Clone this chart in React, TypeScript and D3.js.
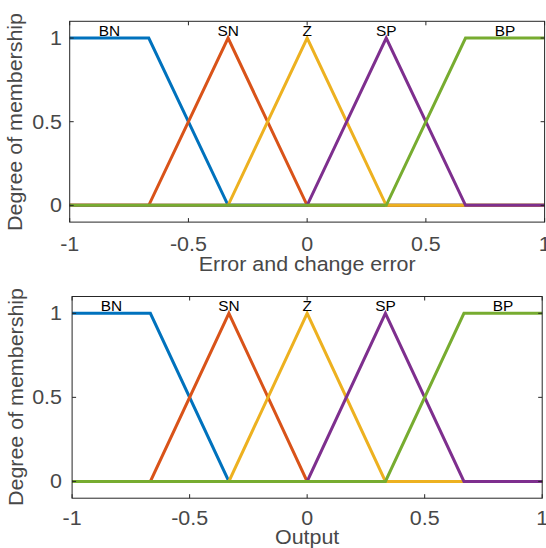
import React from 'react'
import * as d3 from 'd3'

// membership function vertices (same sets on both axes)
const mfNames = ['BN', 'SN', 'Z', 'SP', 'BP']
const mfLabelX = [-0.833, -0.333, 0, 0.333, 0.833]
const mfX = [
  [-1, -0.667, -0.333, 1],
  [-1, -0.667, -0.333, 0, 1],
  [-1, -0.333, 0, 0.333, 1],
  [-1, 0, 0.333, 0.667, 1],
  [-1, 0.333, 0.667, 1]
]
const mfY = [
  [1, 1, 0, 0],
  [0, 0, 1, 0, 0],
  [0, 0, 1, 0, 0],
  [0, 0, 1, 0, 0],
  [0, 0, 1, 1]
]
const xTicks = [-1, -0.5, 0, 0.5, 1]
const yTicks = [0, 0.5, 1]
const xLabels = ['Error and change error', 'Output']
const colors = ['#0072BD', '#D95319', '#EDB120', '#7E2F8E', '#77AC30']

const W = 546
const H = 548
const SX = 1.1 // text in the picture is a bit wider than Liberation Sans
const axisColor = '#262626'
const textColor = '#484848'
const font = 'Liberation Sans, Arial, sans-serif'

const panels = [
  { left: 69.7, right: 544.6, top: 21.3, bottom: 222.1, tickBase: 251, labelBase: 270.5, yLabelX: 22, yLabelY: 122 },
  { left: 72.1, right: 542.2, top: 296.5, bottom: 498.2, tickBase: 525, labelBase: 544, yLabelX: 23, yLabelY: 397 }
]

function Panel({ p, xLabel }) {
  const x = d3.scaleLinear().domain([-1, 1]).range([p.left, p.right])
  const y = d3.scaleLinear().domain([-0.1, 1.1]).range([p.bottom, p.top])
  const line = d3
    .line<number>()
    .x(d => x(d[0]))
    .y(d => y(d[1]))
  const tk = 4

  return (
    <g>
      {/* curves */}
      {mfX.map((xs, i) => (
        <path
          key={mfNames[i]}
          d={line(xs.map((v, j) => [v, mfY[i][j]]) as any)}
          fill="none"
          stroke={colors[i]}
          strokeWidth={3}
          strokeLinejoin="miter"
        />
      ))}

      {/* box and ticks */}
      <rect x={p.left} y={p.top} width={p.right - p.left} height={p.bottom - p.top} fill="none" stroke={axisColor} strokeWidth={1} />
      {xTicks.map(t => (
        <g key={'xt' + t}>
          <line x1={x(t)} x2={x(t)} y1={p.bottom} y2={p.bottom - tk} stroke={axisColor} />
          <line x1={x(t)} x2={x(t)} y1={p.top} y2={p.top + tk} stroke={axisColor} />
          <text
            transform={`translate(${x(t)},${p.tickBase}) scale(${SX},1)`}
            textAnchor="middle"
            fontSize={19.5}
            fontFamily={font}
            fill={textColor}
          >
            {t}
          </text>
        </g>
      ))}
      {yTicks.map(t => (
        <g key={'yt' + t}>
          <line x1={p.left} x2={p.left + tk} y1={y(t)} y2={y(t)} stroke={axisColor} />
          <line x1={p.right} x2={p.right - tk} y1={y(t)} y2={y(t)} stroke={axisColor} />
          <text
            transform={`translate(62,${y(t) + 7}) scale(${SX},1)`}
            textAnchor="end"
            fontSize={19.5}
            fontFamily={font}
            fill={textColor}
          >
            {t}
          </text>
        </g>
      ))}

      {/* set names */}
      {mfNames.map((n, i) => (
        <text
          key={'l' + n}
          transform={`translate(${x(mfLabelX[i])},${y(1) - 2}) scale(${SX},1)`}
          textAnchor="middle"
          fontSize={14}
          fontFamily={font}
          fill="#000"
        >
          {n}
        </text>
      ))}

      {/* axis labels */}
      <text
        transform={`translate(${(p.left + p.right) / 2},${p.labelBase}) scale(${SX},1)`}
        textAnchor="middle"
        fontSize={19.5}
        fontFamily={font}
        fill={textColor}
      >
        {xLabel}
      </text>
      <text
        transform={`translate(${p.yLabelX},${p.yLabelY}) rotate(-90) scale(${SX},1)`}
        textAnchor="middle"
        fontSize={19.5}
        fontFamily={font}
        fill={textColor}
      >
        Degree of membership
      </text>
    </g>
  )
}

export default function App() {
  return (
    <svg
      width={W}
      height={H}
      style={{ position: 'absolute', left: 0, top: 0, background: '#fff' }}
    >
      <rect width={W} height={H} fill="#fff" />
      {panels.map((p, i) => (
        <Panel key={i} p={p} xLabel={xLabels[i]} />
      ))}
    </svg>
  )
}
